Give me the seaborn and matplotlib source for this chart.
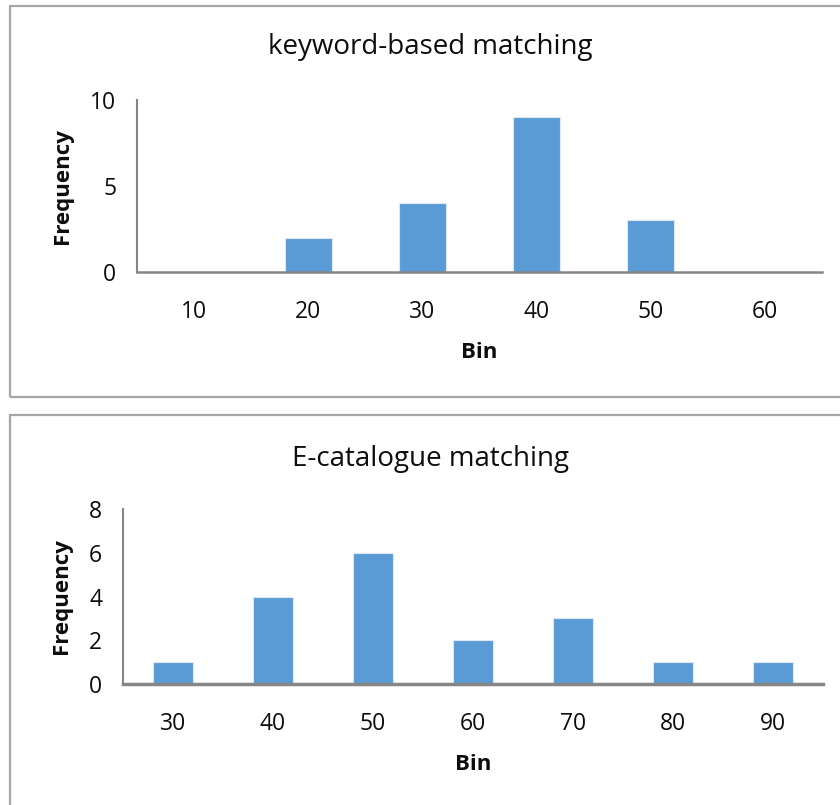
import matplotlib
matplotlib.use("Agg")
import matplotlib.pyplot as plt
import matplotlib.patches as mpatches
import numpy as np
import pandas as pd
import seaborn as sns

# Histogram counts per bin
keyword_bins = ["10", "20", "30", "40", "50", "60"]
keyword_freq = [0, 2, 4, 9, 3, 0]

catalogue_bins = ["30", "40", "50", "60", "70", "80", "90"]
catalogue_freq = [1, 4, 6, 2, 3, 1, 1]

sns.set_theme(style="white")
plt.rcParams["font.family"] = ["Open Sans", "DejaVu Sans"]

BAR = "#5B9BD5"
AXIS = "#868686"
FRAME = "#A6A6A6"
TEXT = "#0D0D0D"
W, H = 840, 805

fig = plt.figure(figsize=(W / 100, H / 100), dpi=100)
fig.patch.set_facecolor("white")


def px_axes(left, right, top, bottom):
    return fig.add_axes([left / W, 1 - bottom / H, (right - left) / W, (bottom - top) / H])


def frame(x0, y0, x1, y1):
    fig.patches.append(mpatches.Rectangle((x0 / W, 1 - y1 / H), (x1 - x0) / W, (y1 - y0) / H,
                                          transform=fig.transFigure, fill=False,
                                          edgecolor=FRAME, linewidth=1.6))


def draw(ax, bins, freq, width, ymax, ystep, title, title_y, spine_w):
    df = pd.DataFrame({"Bin": bins, "Frequency": freq})
    sns.barplot(data=df, x="Bin", y="Frequency", order=bins, color=BAR, saturation=1,
                width=width, edgecolor="#DCE9F5", linewidth=0.8, ax=ax)
    n = len(bins)
    ax.set_xlim(-0.5, n - 0.5)
    ax.set_ylim(0, ymax)
    ax.set_yticks(np.arange(0, ymax + 0.01, ystep))
    ax.set_xticks(np.arange(n))
    ax.set_xticks(np.arange(n + 1) - 0.5, minor=True)
    ax.tick_params(axis="x", which="major", length=0, pad=20, labelsize=16.5, colors=TEXT)
    ax.tick_params(axis="x", which="minor", length=6, width=1.5, color=AXIS, direction="out")
    ax.tick_params(axis="y", length=6, width=1.5, color=AXIS, direction="out", pad=9,
                   labelsize=16.5, labelcolor=TEXT)
    for s in ["top", "right"]:
        ax.spines[s].set_visible(False)
    ax.spines["left"].set_color(AXIS)
    ax.spines["left"].set_linewidth(1.5)
    ax.spines["bottom"].set_color(AXIS)
    ax.spines["bottom"].set_linewidth(spine_w)
    ax.set_xlabel("Bin", fontsize=16, fontweight="bold", labelpad=13, color=TEXT)
    ax.set_ylabel("Frequency", fontsize=16, fontweight="bold", labelpad=12, color=TEXT)
    fig.text(0.512, 1 - title_y / H, title, ha="center", va="center", fontsize=20,
             color=TEXT)


frame(10, 6, 860, 397)
frame(10, 415, 860, 830)

ax1 = px_axes(137, 822, 100, 272)
draw(ax1, keyword_bins, keyword_freq, 0.41, 10, 5, "keyword-based matching", 47, 1.8)

ax2 = px_axes(123, 823, 509, 684)
draw(ax2, catalogue_bins, catalogue_freq, 0.40, 8, 2, "E-catalogue matching", 459, 2.5)

fig.savefig("out.png", dpi=100, facecolor="white")
